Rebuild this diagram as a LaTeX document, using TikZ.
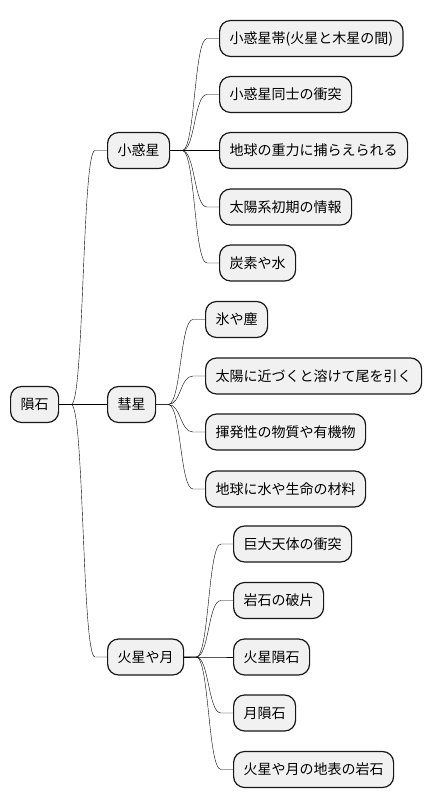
\documentclass[tikz,border=0pt]{standalone}
\usepackage{fontspec}
\setmainfont{Noto Sans CJK JP}
\usepackage{xcolor}
\usetikzlibrary{calc}
\definecolor{boxfill}{HTML}{F1F1F1}
\definecolor{boxline}{HTML}{181818}
\tikzset{
  topic/.style={rectangle,rounded corners=11pt,draw=boxline,fill=boxfill,line width=1.2pt,minimum height=36pt,inner xsep=10pt,inner ysep=0pt,anchor=west,font=\fontsize{14}{16}\selectfont},
  branch/.style={draw=boxline,line width=0.9pt,to path={-- ++(12,0) .. controls +(13,0) and +(-13,0) .. ($(\tikztotarget)+(-12,0)$) -- (\tikztotarget)}}
}
\begin{document}
\begin{tikzpicture}[x=1pt,y=-1pt]
\useasboundingbox (0,0) rectangle (432,809);
\node [topic] at (10,404.5) (root) {隕石};
% asteroid branch
\node [topic] at (107,150.5) (ast) {小惑星};
\node [topic] at (219,38.5) (ast1) {小惑星帯(火星と木星の間)};
\node [topic] at (219,94.5) (ast2) {小惑星同士の衝突};
\node [topic] at (219,150.5) (ast3) {地球の重力に捕らえられる};
\node [topic] at (219,207) (ast4) {太陽系初期の情報};
\node [topic] at (219,263) (ast5) {炭素や水};
% comet branch
\node [topic] at (107,404.5) (com) {彗星};
\node [topic] at (205,319.5) (com1) {氷や塵};
\node [topic] at (205,376) (com2) {太陽に近づくと溶けて尾を引く};
\node [topic] at (205,432) (com3) {揮発性の物質や有機物};
\node [topic] at (205,489) (com4) {地球に水や生命の材料};
% mars and moon branch
\node [topic] at (107,657) (mm) {火星や月};
\node [topic] at (233,544) (mm1) {巨大天体の衝突};
\node [topic] at (233,600.5) (mm2) {岩石の破片};
\node [topic] at (233,657) (mm3) {火星隕石};
\node [topic] at (233,713) (mm4) {月隕石};
\node [topic] at (233,769.5) (mm5) {火星や月の地表の岩石};
\draw (root.east) to[branch] (ast.west);
\draw (root.east) to[branch] (com.west);
\draw (root.east) to[branch] (mm.west);
\foreach \k in {1,...,5} \draw (ast.east) to[branch] (ast\k.west);
\foreach \k in {1,...,4} \draw (com.east) to[branch] (com\k.west);
\foreach \k in {1,...,5} \draw (mm.east) to[branch] (mm\k.west);
\end{tikzpicture}
\end{document}
